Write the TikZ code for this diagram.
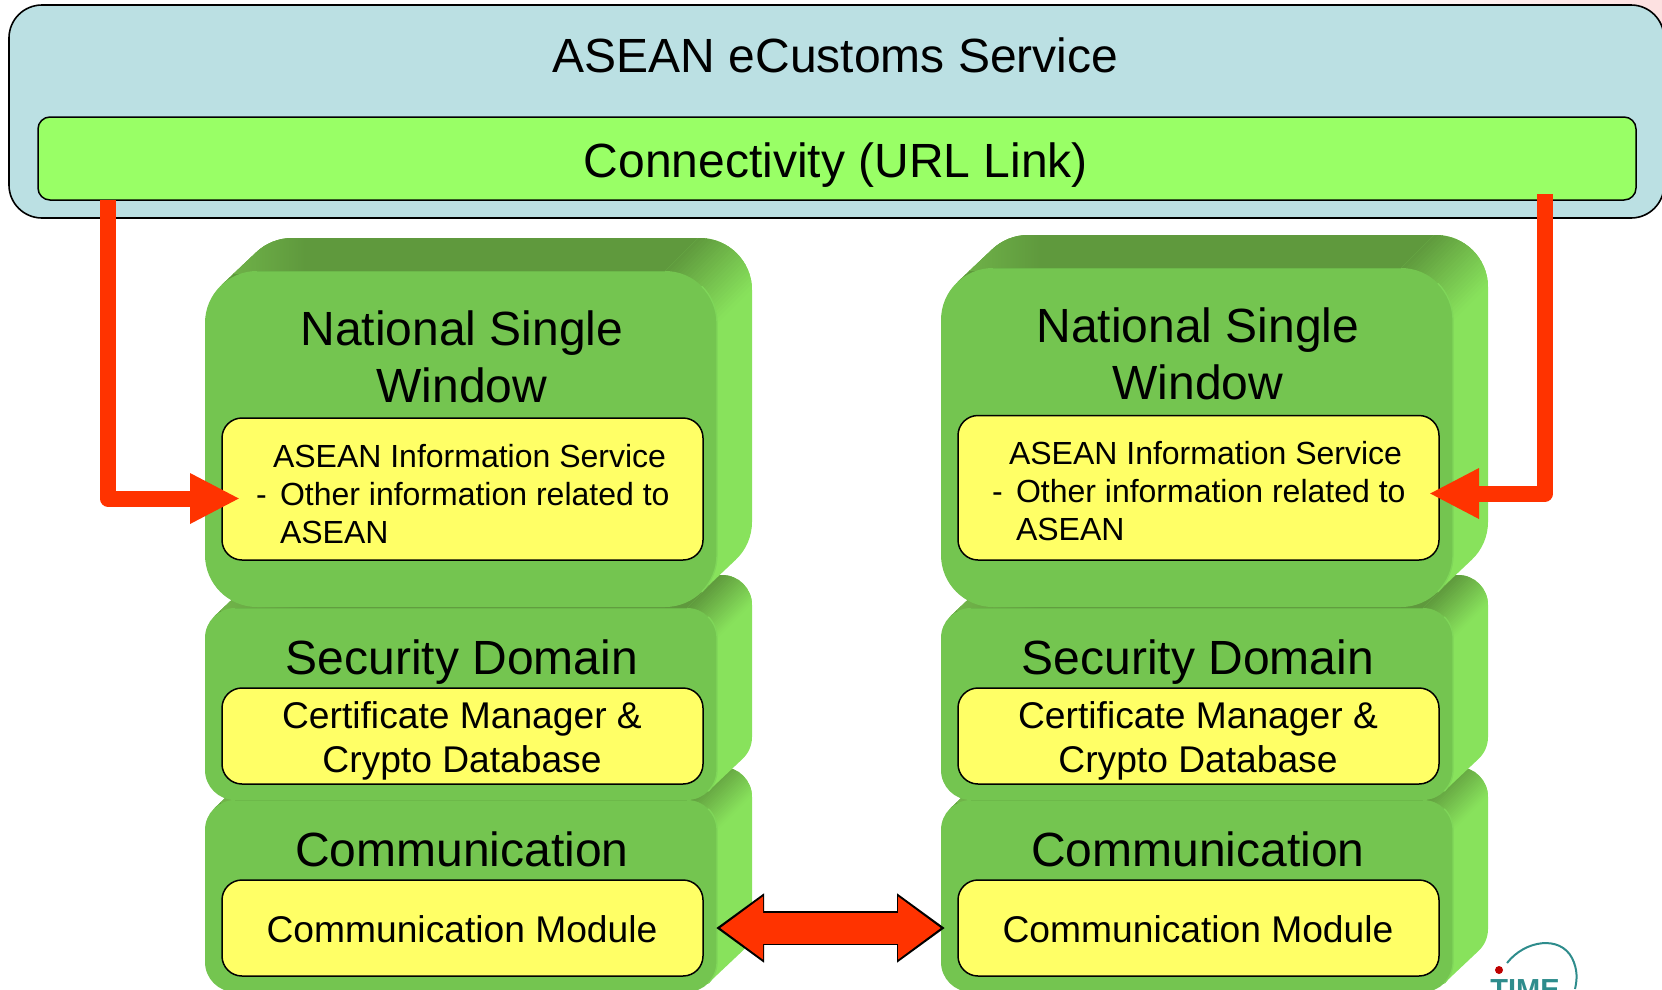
\documentclass[tikz,border=0pt]{standalone}
\usepackage{fontspec}
\setmainfont{Liberation Sans}
\usetikzlibrary{arrows.meta,calc}
\definecolor{skybox}{HTML}{BBE0E3}
\definecolor{barcol}{HTML}{99FF66}
\definecolor{yellowcol}{HTML}{FFFF66}
\definecolor{redcol}{HTML}{FF3300}
\definecolor{frontcol}{HTML}{74C550}
\definecolor{darkcol}{HTML}{5F993D}
\definecolor{midcol}{HTML}{74BA4C}
\definecolor{lightcol}{HTML}{88E25C}
\definecolor{edgecol}{HTML}{7FD659}
\definecolor{topedge}{HTML}{6CB84A}
\definecolor{tealcol}{HTML}{2E8C8C}
\tikzset{
  outerbox/.style={draw=black,line width=1.6pt,fill=skybox,rounded corners=33pt},
  barbox/.style={draw=black,line width=1.5pt,fill=barcol,rounded corners=12pt},
  yellowbox/.style={draw=black,line width=1.5pt,fill=yellowcol,rounded corners=20pt},
  redline/.style={draw=redcol,line width=16pt,line join=round,-{Triangle[length=50pt,width=47pt,fill=redcol]}},
  label/.style={anchor=base,inner sep=0pt,outer sep=0pt,text=black},
}
% \bx{name}{x0}{y0}{x1}{y1}{style}
\newcommand{\bx}[6]{\node[#6,inner sep=0pt,outer sep=0pt,minimum width={(#4)-(#2)},minimum height={(#5)-(#3)}] (#1) at ({((#2)+(#4))/2},{((#3)+(#5))/2}) {};}
% \txt{name}{x}{baseline}{size}{text}
\newcommand{\txt}[5]{\node[label,font=\fontsize{#4}{#4}\selectfont] (#1) at (#2,#3) {#5};}
% \blk{x0}{x1}{y0}{y1}{r}
\newcommand{\blk}[5]{%
  \begin{scope}
    \clip ({#1+#5+#5*cos(227)},{#3+#5+#5*sin(227)})
      -- ({#1+#5+#5*cos(227)+35},{#3+#5+#5*sin(227)-33})
      arc[start angle=227,end angle=270,radius=#5]
      -- ({#2+35-#5},{#3-33})
      arc[start angle=270,end angle=360,radius=#5]
      -- ({#2+35},{#4-33-#5})
      arc[start angle=0,end angle=47,radius=#5]
      -- ({#2-#5+#5*cos(47)},{#4-#5+#5*sin(47)}) -- cycle;
    \fill[lightcol] (#1-5,#3-40) rectangle (#2+40,#4+5);
    % dark top face, up to the line where the corner turns
    \fill[darkcol] (#1-5,#3-40) -- ({#2-#5+40},#3-40) -- ({#2-#5-#5-5},{#3+#5+5}) -- (#1-5,{#3+#5+5}) -- cycle;
    \shade[left color=midcol,right color=darkcol] (#1,#3-40) rectangle (#1+100,#3+2);
    % corner: strips along the direction of the extrusion, dark to light
    \foreach \i in {0,...,23}{%
      \pgfmathsetmacro{\pc}{(\i+0.5)*100/24}%
      \pgfmathsetmacro{\vA}{#2+#3-#5+\i*2*#5/24}%
      \pgfmathsetmacro{\vB}{\vA+2*#5/24+0.6}%
      \pgfmathsetmacro{\ya}{#3-40}%
      \pgfmathsetmacro{\yb}{#3+#5+5}%
      \fill[lightcol!\pc!darkcol] ({\vA-\ya},\ya) -- ({\vB-\ya},\ya) -- ({\vB-\yb},\yb) -- ({\vA-\yb},\yb) -- cycle;
    }%
  \end{scope}
  \fill[frontcol,rounded corners=#5] (#1,#3) rectangle (#2,#4);
  \draw[edgecol,line width=1.3pt] ({#2-#5+#5*cos(-45)},{#3+#5+#5*sin(-45)}) arc[start angle=-45,end angle=0,radius=#5] -- (#2,{#4-#5}) arc[start angle=0,end angle=45,radius=#5];
  \draw[topedge,line width=1pt] ({#1+#5},#3) -- ({#2-#5},#3);
}
\begin{document}
\begin{tikzpicture}[x=1pt,y=1pt,yscale=-1]
\useasboundingbox (0,0) rectangle (1662,989);
% faint background at the top right
\shade[left color=white,right color=black!6!red!12!white] (1300,0) rectangle (1662,45);
% logo behind everything
\fill[red!75!black] (1499,970) circle (4);
\draw[tealcol,line width=2pt] (1507,963) .. controls (1525,940) and (1560,935) .. (1572,958) .. controls (1578,970) and (1577,980) .. (1575,989);
\node[inner sep=0pt,outer sep=0pt,anchor=base,text=tealcol,font=\fontsize{29}{29}\selectfont\bfseries] (logotext) at (1525,999) {TIME};
% top
\bx{service}{9}{5}{1664}{218}{outerbox}
\bx{conn}{38}{117}{1636}{200}{barbox}
\txt{serviceT}{835.5}{72}{48}{ASEAN eCustoms Service}
\txt{connT}{836}{177}{48}{Connectivity (URL Link)}
% left stack
\blk{205}{717}{800}{992}{30}
\blk{205}{717}{608}{800}{30}
\blk{205}{717}{271}{607}{52}
% right stack
\blk{941}{1453}{800}{992}{30}
\blk{941}{1453}{608}{800}{30}
\blk{941}{1453}{268}{607}{52}
% yellow boxes
\bx{infoL}{222}{418}{703}{560}{yellowbox}
\bx{certL}{222}{688}{703}{784}{yellowbox}
\bx{commL}{222}{880}{703}{976}{yellowbox}
\bx{infoR}{958}{415.5}{1439}{560}{yellowbox}
\bx{certR}{958}{688}{1439}{784}{yellowbox}
\bx{commR}{958}{880}{1439}{976}{yellowbox}
% left text
\txt{nswL1}{462}{345}{48}{National Single}
\txt{nswL2}{462}{402}{48}{Window}
\txt{secL}{462}{674}{48}{Security Domain}
\txt{cmL}{462}{866}{48}{Communication}
\node[label,anchor=base west,font=\fontsize{32}{32}\selectfont] (iL1) at (273,467) {ASEAN Information Service};
\node[label,anchor=base west,font=\fontsize{32}{32}\selectfont] (iL2d) at (256,505) {-};
\node[label,anchor=base west,font=\fontsize{32}{32}\selectfont] (iL2) at (280,505) {Other information related to};
\node[label,anchor=base west,font=\fontsize{32}{32}\selectfont] (iL3) at (280,543) {ASEAN};
\txt{cL1}{462}{728}{37.2}{Certificate Manager \&}
\txt{cL2}{462}{772}{37.2}{Crypto Database}
\txt{mL}{462}{942.5}{37.2}{Communication Module}
% right text
\txt{nswR1}{1198}{342}{48}{National Single}
\txt{nswR2}{1198}{399.5}{48}{Window}
\txt{secR}{1198}{674}{48}{Security Domain}
\txt{cmR}{1198}{866}{48}{Communication}
\node[label,anchor=base west,font=\fontsize{32}{32}\selectfont] (iR1) at (1009,464) {ASEAN Information Service};
\node[label,anchor=base west,font=\fontsize{32}{32}\selectfont] (iR2d) at (992,502) {-};
\node[label,anchor=base west,font=\fontsize{32}{32}\selectfont] (iR2) at (1016,502) {Other information related to};
\node[label,anchor=base west,font=\fontsize{32}{32}\selectfont] (iR3) at (1016,540) {ASEAN};
\txt{cR1}{1198}{728}{37.2}{Certificate Manager \&}
\txt{cR2}{1198}{772}{37.2}{Crypto Database}
\txt{mR}{1198}{942.5}{37.2}{Communication Module}
% connectors
\coordinate (lstart) at (108,200);
\coordinate (ltip) at (240,498.5);
\coordinate (rstart) at (1545,194);
\coordinate (rtip) at (1429,493.5);
\draw[redline] (lstart) |- (ltip);
\draw[redline] (rstart) |- (rtip);
\draw[black,line width=34pt,{Triangle[length=48pt,width=66pt]}-{Triangle[length=48pt,width=66pt]},shorten <=13pt,shorten >=13pt] (commL.east) -- (commR.west);
\draw[redcol,line width=31pt,{Triangle[length=43pt,width=60pt]}-{Triangle[length=43pt,width=60pt]},shorten <=17pt,shorten >=17pt] (commL.east) -- (commR.west);
\end{tikzpicture}
\end{document}
